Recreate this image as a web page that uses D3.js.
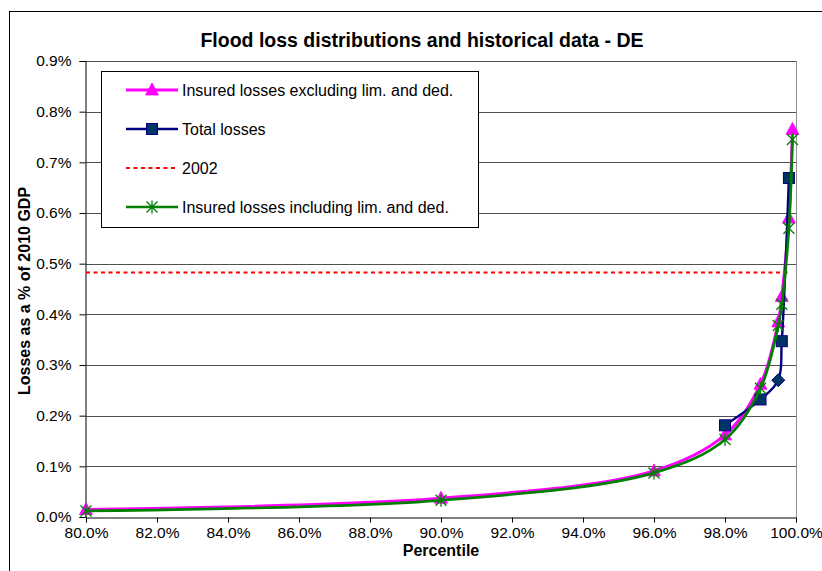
<!DOCTYPE html>
<html>
<head>
<meta charset="utf-8">
<script src="https://cdn.jsdelivr.net/npm/d3@7"></script>
<style>
  html, body { margin: 0; padding: 0; background: #fff; }
  svg { display: block; font-family: "Liberation Sans", Arial, sans-serif; }
</style>
</head>
<body>
<svg id="chart" width="822" height="571"></svg>
<script>
// ---- data ----
const percentiles = [0.80, 0.90, 0.96, 0.98, 0.99, 0.995, 0.996, 0.998, 0.999];
const insuredExcl = [0.00015, 0.00037, 0.00091, 0.00162, 0.00262, 0.00385, 0.00435, 0.0059, 0.00765];
const insuredIncl = [0.00012, 0.00033, 0.00087, 0.00153, 0.00254, 0.00378, 0.0042, 0.0057, 0.00745];
const totalPercentiles = [0.98, 0.99, 0.995, 0.996, 0.998];
const totalLosses = [0.00181, 0.00232, 0.0027, 0.00347, 0.00669];
const totalMarkers = ["square", "square", "diamond", "square", "square"];
const hist2002Percentiles = [0.80, 0.998];
const hist2002Values = [0.00483, 0.00483];
const xTicks = [0.80, 0.82, 0.84, 0.86, 0.88, 0.90, 0.92, 0.94, 0.96, 0.98, 1.00];
const yTicks = [0, 0.001, 0.002, 0.003, 0.004, 0.005, 0.006, 0.007, 0.008, 0.009];
const legendLabels = ["Insured losses excluding lim. and ded.", "Total losses", "2002", "Insured losses including lim. and ded."];
const chartTitle = "Flood loss distributions and historical data - DE";

// ---- layout ----
const svg = d3.select("#chart");
const L = 86, R = 796, T = 61, B = 517;
const x = d3.scaleLinear().domain([0.80, 1.00]).range([L, R]);
const y = d3.scaleLinear().domain([0, 0.009]).range([B, T]);
const FONT = "Liberation Sans, Arial, sans-serif";

// outer frame
svg.append("rect").attr("x", 9.5).attr("y", 11.5).attr("width", 830).attr("height", 600)
  .attr("fill", "none").attr("stroke", "#000").attr("stroke-width", 1);

// title
svg.append("text").attr("x", 422).attr("y", 47).attr("text-anchor", "middle")
  .attr("font-size", 19.5).attr("font-weight", "bold").text(chartTitle);

// gridlines
svg.append("g").selectAll("line").data(yTicks.slice(1)).join("line")
  .attr("x1", L).attr("x2", R)
  .attr("y1", d => Math.round(y(d)) + 0.5).attr("y2", d => Math.round(y(d)) + 0.5)
  .attr("stroke", "#505050").attr("stroke-width", 1);

// plot border right
svg.append("line").attr("x1", R + 0.5).attr("x2", R + 0.5).attr("y1", T).attr("y2", B)
  .attr("stroke", "#909090");

// axes
const xAxis = d3.axisBottom(x).tickValues(xTicks).tickFormat(d3.format(".1%")).tickSizeOuter(0).tickSize(5).tickPadding(4);
const gx = svg.append("g").attr("transform", `translate(0,${B + 0.5})`).call(xAxis);
gx.selectAll("text").attr("font-size", 15.5).attr("fill", "#000").attr("font-family", FONT);
gx.select(".domain").attr("stroke", "#000");

const yAxis = d3.axisLeft(y).tickValues(yTicks).tickFormat(d3.format(".1%")).tickSizeOuter(0).tickSize(6).tickPadding(8);
const gy = svg.append("g").attr("transform", `translate(${L - 0.5},0)`).call(yAxis);
gy.selectAll("text").attr("font-size", 15.5).attr("fill", "#000").attr("font-family", FONT);
gy.select(".domain").attr("stroke", "#000");

// axis titles
svg.append("text").attr("x", 441).attr("y", 556).attr("text-anchor", "middle")
  .attr("font-size", 16).attr("font-weight", "bold").text("Percentile");
svg.append("text").attr("transform", "translate(30,291) rotate(-90)").attr("text-anchor", "middle")
  .attr("font-size", 16).attr("font-weight", "bold").text("Losses as a % of 2010 GDP");

// marker helpers
function triangle(g, cx, cy) {
  g.append("path").attr("d", `M${cx},${cy - 7}L${cx + 6.5},${cy + 5}L${cx - 6.5},${cy + 5}Z`)
    .attr("fill", "#FF00FF").attr("stroke", "#FF00FF").attr("stroke-width", 0.8);
}
function square(g, cx, cy) {
  g.append("rect").attr("x", cx - 5.5).attr("y", cy - 5.5).attr("width", 11).attr("height", 11)
    .attr("fill", "#003366").attr("stroke", "#000080").attr("stroke-width", 1);
}
function diamond(g, cx, cy) {
  g.append("path").attr("d", `M${cx},${cy - 6.5}L${cx + 6.5},${cy}L${cx},${cy + 6.5}L${cx - 6.5},${cy}Z`)
    .attr("fill", "#003366").attr("stroke", "#000080").attr("stroke-width", 1);
}
function star(g, cx, cy) {
  g.append("path").attr("d",
    `M${cx - 5.5},${cy - 5.5}L${cx + 5.5},${cy + 5.5}M${cx - 5.5},${cy + 5.5}L${cx + 5.5},${cy - 5.5}M${cx},${cy - 6.5}L${cx},${cy + 6.5}`)
    .attr("stroke", "#008000").attr("stroke-width", 1.3).attr("fill", "none");
}

const curve = d3.curveCatmullRom.alpha(0.5);
const line = d3.line().x(d => x(d[0])).y(d => y(d[1])).curve(curve);

const plot = svg.append("g");

// series 1: insured excluding (magenta)
const s1 = d3.zip(percentiles, insuredExcl);
plot.append("path").attr("d", line(s1)).attr("fill", "none").attr("stroke", "#FF00FF").attr("stroke-width", 3);
const m1 = plot.append("g");
s1.forEach(d => triangle(m1, x(d[0]), y(d[1])));

// series 2: total losses (navy)
const s2 = d3.zip(totalPercentiles, totalLosses);
plot.append("path").attr("d", line(s2)).attr("fill", "none").attr("stroke", "#000080").attr("stroke-width", 2.4);
const m2 = plot.append("g");
s2.forEach((d, i) => (totalMarkers[i] === "diamond" ? diamond : square)(m2, x(d[0]), y(d[1])));

// series 3: 2002 (red dotted)
const s3 = d3.zip(hist2002Percentiles, hist2002Values);
plot.append("path").attr("d", d3.line().x(d => x(d[0])).y(d => Math.round(y(d[1])) + 0.5)(s3))
  .attr("fill", "none").attr("stroke", "#FF0000").attr("stroke-width", 2).attr("stroke-dasharray", "4,3.5");

// series 4: insured including (green)
const s4 = d3.zip(percentiles, insuredIncl);
plot.append("path").attr("d", line(s4)).attr("fill", "none").attr("stroke", "#008000").attr("stroke-width", 2.7);
const m4 = plot.append("g");
s4.forEach(d => star(m4, x(d[0]), y(d[1])));

// legend
const lg = svg.append("g");
lg.append("rect").attr("x", 101.5).attr("y", 71.5).attr("width", 377).attr("height", 156)
  .attr("fill", "#fff").attr("stroke", "#000").attr("stroke-width", 1);
const legendY = [90, 129, 168, 207];
const lx1 = 126, lx2 = 178, lmx = 152;
lg.append("line").attr("x1", lx1).attr("x2", lx2).attr("y1", legendY[0]).attr("y2", legendY[0]).attr("stroke", "#FF00FF").attr("stroke-width", 3);
triangle(lg, lmx, legendY[0]);
lg.append("line").attr("x1", lx1).attr("x2", lx2).attr("y1", legendY[1]).attr("y2", legendY[1]).attr("stroke", "#000080").attr("stroke-width", 2.4);
square(lg, lmx, legendY[1]);
lg.append("line").attr("x1", lx1).attr("x2", lx2).attr("y1", legendY[2]).attr("y2", legendY[2]).attr("stroke", "#FF0000").attr("stroke-width", 2).attr("stroke-dasharray", "4,3.5");
lg.append("line").attr("x1", lx1).attr("x2", lx2).attr("y1", legendY[3]).attr("y2", legendY[3]).attr("stroke", "#008000").attr("stroke-width", 2.7);
star(lg, lmx, legendY[3]);
lg.selectAll("text.lab").data(legendLabels).join("text").attr("class", "lab")
  .attr("x", 182).attr("y", (d, i) => legendY[i] + 5.5).attr("font-size", 16).attr("fill", "#000").text(d => d);
</script>
</body>
</html>
